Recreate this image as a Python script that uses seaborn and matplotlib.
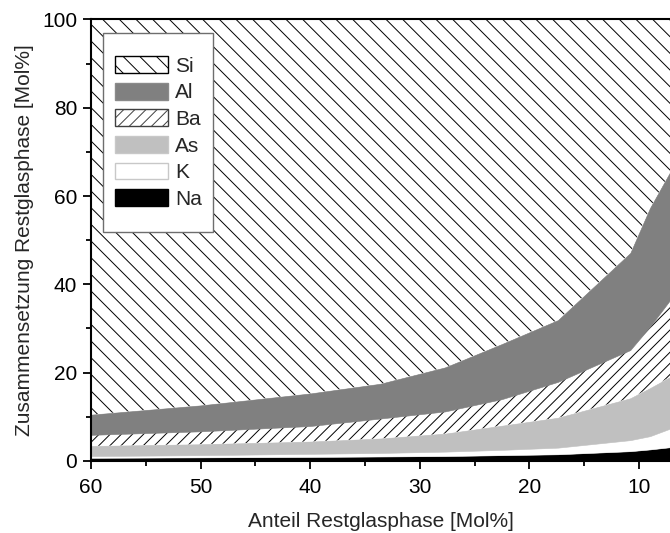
import numpy as np
import matplotlib
matplotlib.use("Agg")
import matplotlib.pyplot as plt
import seaborn as sns
from matplotlib.patches import Patch, Rectangle
from matplotlib.ticker import MultipleLocator

# Anteil Restglasphase [Mol%]
x = [60, 50, 40, 33.6, 27.7, 22.5, 17.4, 10.8, 9.0, 7.17]
# composition of residual glass phase [Mol%]
na = [0.7, 0.8, 0.9, 1.0, 1.1, 1.3, 1.5, 2.2, 2.6, 3.1]
k = [0.4, 0.5, 0.7, 0.8, 1.0, 1.2, 1.5, 2.5, 3.0, 4.2]
as_ = [2.3, 2.5, 2.8, 3.3, 4.1, 5.5, 6.8, 9.5, 10.9, 11.7]
ba = [2.5, 2.9, 3.5, 4.5, 5.0, 6.0, 8.1, 10.9, 13.9, 17.4]
al = [4.6, 5.9, 7.4, 7.9, 10.0, 12.5, 14.0, 22.0, 26.9, 29.0]
si = [89.5, 87.4, 84.7, 82.5, 78.8, 73.5, 68.1, 52.9, 42.7, 34.6]

series_names = ["Na", "K", "As", "Ba", "Al", "Si"]
series_vals = [na, k, as_, ba, al, si]
x_ticks = [60, 50, 40, 30, 20, 10]
y_ticks = [0, 20, 40, 60, 80, 100]

sns.set_theme(style="ticks")
plt.rcParams["font.family"] = ["Liberation Sans", "DejaVu Sans"]
plt.rcParams["hatch.linewidth"] = 0.7
plt.rcParams["hatch.color"] = "black"

styles = {
    "Na": dict(facecolor="black", edgecolor="black", hatch=None, lw=0.4),
    "K": dict(facecolor="white", edgecolor="white", hatch=None, lw=0.4),
    "As": dict(facecolor="#c0c0c0", edgecolor="#c0c0c0", hatch=None, lw=0.4),
    "Ba": dict(facecolor="white", edgecolor="black", hatch="///", lw=0),
    "Al": dict(facecolor="#808080", edgecolor="#808080", hatch=None, lw=0.4),
    "Si": dict(facecolor="white", edgecolor="black", hatch="\\\\", lw=0),
}

fig = plt.figure(figsize=(6.7, 5.33), dpi=100)
ax = fig.add_axes([91 / 670, (533 - 460.9) / 533, 579 / 670, 441.5 / 533])

xs = np.array(x, dtype=float)
base = np.zeros_like(xs)
for name, vals in zip(series_names, series_vals):
    top = base + np.array(vals, dtype=float)
    if name == "Si":
        top = np.full_like(xs, 100.0)
    st = styles[name]
    ax.fill_between(xs, base, top, facecolor=st["facecolor"], edgecolor=st["edgecolor"],
                    hatch=st["hatch"], linewidth=st["lw"], zorder=2)
    base = top

ax.set_xlim(60, 7.17)
ax.set_ylim(0, 100)
ax.set_xticks(x_ticks)
ax.set_yticks(y_ticks)
ax.xaxis.set_minor_locator(MultipleLocator(5))
ax.yaxis.set_minor_locator(MultipleLocator(10))
ax.tick_params(which="major", direction="out", length=6, width=1.3, labelsize=15,
               colors="black", pad=4)
ax.tick_params(axis="x", which="major", pad=6)
ax.tick_params(which="minor", direction="out", length=3.5, width=1.3, colors="black")
ax.tick_params(top=False, right=False, which="both")
for s in ["left", "bottom", "top"]:
    ax.spines[s].set_linewidth(1.5)
    ax.spines[s].set_color("black")
    ax.spines[s].set_zorder(4)
ax.spines["right"].set_visible(False)

ax.set_xlabel("Anteil Restglasphase [Mol%]", fontsize=15, labelpad=11)
ax.set_ylabel("Zusammensetzung Restglasphase [Mol%]", fontsize=15, labelpad=6)

# legend frame
fx0 = (103.3 - 91) / 579
fy0 = (460.9 - 232.3) / 441.5
frame = Rectangle((fx0, fy0), (213.3 - 103.3) / 579, (232.3 - 32.7) / 441.5,
                  transform=ax.transAxes, facecolor="white", edgecolor="#6e6e6e",
                  linewidth=1.0, zorder=5)
ax.add_patch(frame)

handles = [
    Patch(facecolor="white", edgecolor="black", hatch="\\\\", linewidth=1.0, label="Si"),
    Patch(facecolor="#808080", edgecolor="#8a8a8a", linewidth=1.0, label="Al"),
    Patch(facecolor="white", edgecolor="#404040", hatch="///", linewidth=1.0, label="Ba"),
    Patch(facecolor="#c0c0c0", edgecolor="#c8c8c8", linewidth=1.0, label="As"),
    Patch(facecolor="white", edgecolor="#c8c8c8", linewidth=1.0, label="K"),
    Patch(facecolor="black", edgecolor="black", linewidth=1.0, label="Na"),
]
leg = ax.legend(handles=handles, loc="upper left",
                bbox_to_anchor=((115 - 91) / 579, (460.9 - 56) / 441.5),
                frameon=False, fontsize=15, borderpad=0, borderaxespad=0,
                handlelength=2.56, handleheight=0.87, handletextpad=0.32,
                labelspacing=0.335)
leg.set_zorder(6)

fig.savefig("out.png", dpi=100)
